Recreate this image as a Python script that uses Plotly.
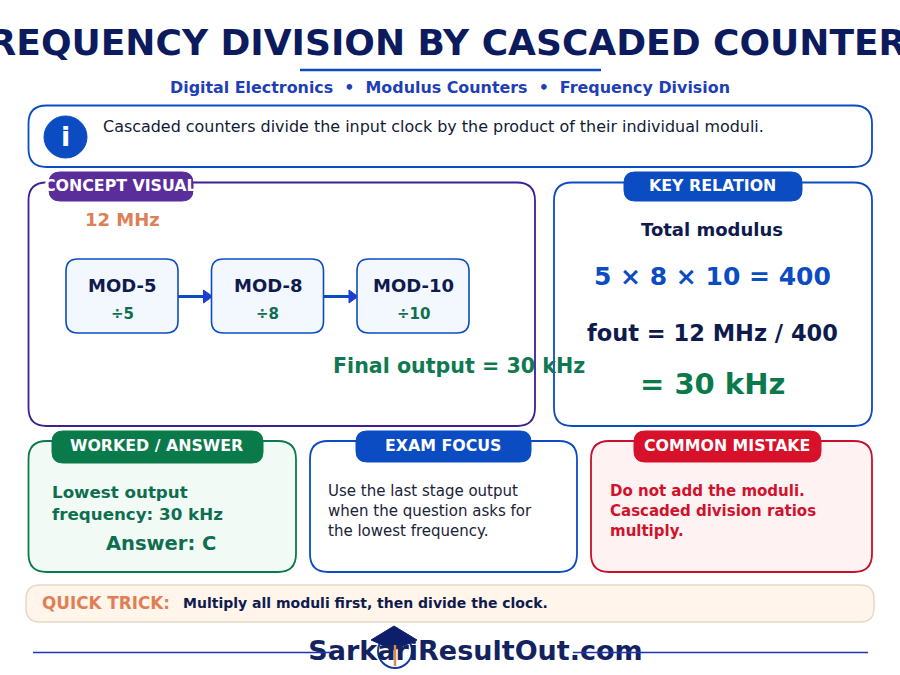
"""
Frequency division by cascaded counters - infographic card
"""
import plotly.graph_objects as go

FONT = 'DejaVu Sans'
NAVY = '#0b1b5e'
INK = '#0f1a4d'
BLUE = '#0b4cc2'
PURPLE = '#5b2d9b'
GREEN = '#0b7a4b'
RED = '#d8112a'
ORANGE = '#df7f55'

# Text content
title = 'FREQUENCY DIVISION BY CASCADED COUNTERS'
subtitle = 'Digital Electronics  •  Modulus Counters  •  Frequency Division'
info_text = 'Cascaded counters divide the input clock by the product of their individual moduli.'
input_clock = '12 MHz'
moduli = [5, 8, 10]
final_output = 'Final output = 30 kHz'
relation_lines = ['Total modulus', '5 × 8 × 10 = 400', 'fout = 12 MHz / 400', '= 30 kHz']
worked_lines = ['Lowest output', 'frequency: 30 kHz']
answer = 'Answer: C'
exam_lines = ['Use the last stage output', 'when the question asks for', 'the lowest frequency.']
mistake_lines = ['Do not add the moduli.', 'Cascaded division ratios', 'multiply.']
trick_label = 'QUICK TRICK:'
trick_text = 'Multiply all moduli first, then divide the clock.'
site_name = 'SarkariResultOut.com'

shapes = []
annotations = []


def round_rect(x0, y0, x1, y1, r, fill, line, width=1.8, layer='below'):
    path = (f'M{x0 + r},{y0} L{x1 - r},{y0} Q{x1},{y0} {x1},{y0 + r} '
            f'L{x1},{y1 - r} Q{x1},{y1} {x1 - r},{y1} '
            f'L{x0 + r},{y1} Q{x0},{y1} {x0},{y1 - r} '
            f'L{x0},{y0 + r} Q{x0},{y0} {x0 + r},{y0} Z')
    shapes.append(dict(type='path', path=path, fillcolor=fill, layer=layer,
                       line=dict(color=line, width=width)))


def label(x, y, text, size, color, bold=True, anchor='center'):
    shown = f'<b>{text}</b>' if bold else text
    # annotations carry a small pad on their left edge
    x = x - 2 if anchor == 'left' else x
    annotations.append(dict(x=x, y=y - 0.5, text=shown, showarrow=False, xanchor=anchor, yanchor='middle',
                            font=dict(family=FONT, size=size, color=color)))


def badge(x0, y0, x1, y1, text, fill):
    round_rect(x0, y0, x1, y1, 11, fill, fill, 1)
    label((x0 + x1) / 2 - 1, (y0 + y1) / 2 - 1, text, 15.8, 'white')


# Header
label(448, 43, title, 36, NAVY)
shapes.append(dict(type='line', x0=300, x1=601, y0=70, y1=70, layer='below', line=dict(color=BLUE, width=2.5)))
label(449.5, 88, subtitle, 15.9, '#1f3fb5')

# Info strip
round_rect(28.5, 105.5, 872, 167, 18, 'white', BLUE)
shapes.append(dict(type='circle', x0=44, x1=87, y0=116, y1=158, fillcolor=BLUE, line=dict(color=BLUE, width=1), layer='below'))
label(65.5, 137, 'i', 27, 'white')
label(103, 127, info_text, 15.95, '#111a33', bold=False, anchor='left')

# Concept panel
round_rect(28.5, 182.5, 535, 426, 18, 'white', '#3d1f96')
badge(49, 172, 193, 201, 'CONCEPT VISUAL', PURPLE)
label(122, 220, input_clock, 18, ORANGE)

box_left = [66, 211.5, 357]
for i, m in enumerate(moduli):
    x0 = box_left[i]
    round_rect(x0, 259, x0 + 112, 333, 12, '#f2f8fe', BLUE, 1.6)
    label(x0 + 56, 286, f'MOD-{m}', 18, INK)
    label(x0 + 56, 314, f'÷{m}', 15, '#0f6e50')
    if i < len(moduli) - 1:
        end = box_left[i + 1]
        shapes.append(dict(type='line', x0=x0 + 112, x1=end - 6, y0=296.5, y1=296.5, layer='below',
                           line=dict(color=BLUE, width=3)))
        shapes.append(dict(type='path', path=f'M{end - 8},290 L{end + 1},296.5 L{end - 8},303 Z',
                           fillcolor='#1c3fd0', line=dict(color='#1c3fd0', width=1), layer='below'))
label(459, 366, final_output, 20.6, '#0f7a52')

# Key relation panel
round_rect(554, 182.5, 872, 426, 18, 'white', BLUE)
badge(624, 172, 802, 201, 'KEY RELATION', BLUE)
label(712, 230, relation_lines[0], 18, INK)
label(712, 277, relation_lines[1], 25, BLUE)
label(712, 333, relation_lines[2], 22.5, INK)
label(712, 384, relation_lines[3], 29, GREEN)

# Bottom cards
round_rect(28.5, 441, 296, 572, 18, '#f2faf6', GREEN)
badge(52, 431, 263, 463, 'WORKED / ANSWER', GREEN)
for i, line in enumerate(worked_lines):
    label(52, 492.5 + i * 21.5, line, 16.7, '#0f6e50', anchor='left')
label(161, 544, answer, 19.5, '#0f6e50')

round_rect(310, 441, 577, 572, 18, 'white', BLUE)
badge(356, 431, 531, 462, 'EXAM FOCUS', BLUE)
for i, line in enumerate(exam_lines):
    label(328, 491.5 + i * 20, line, 15, '#1a2238', bold=False, anchor='left')

round_rect(591, 441, 872, 572, 18, '#fff2f3', '#c8102e')
badge(634, 431, 821, 462, 'COMMON MISTAKE', RED)
for i, line in enumerate(mistake_lines):
    label(610, 491.5 + i * 20, line, 15, '#d0122c', anchor='left')

# Quick trick strip
round_rect(26, 585, 874, 622, 14, '#fff5ea', '#e8d8c6', 1.5)
label(42, 603, trick_label, 16.8, ORANGE, anchor='left')
label(183, 603, trick_text, 14, INK, anchor='left')

# Footer: cap emblem, wordmark and rule
shapes.append(dict(type='circle', x0=378, x1=412, y0=634, y1=668, fillcolor='rgba(0,0,0,0)',
                   line=dict(color='#1a3a9e', width=2), layer='below'))
shapes.append(dict(type='path', path='M371,640 L394,626 L417,640 L394,650 Z', fillcolor='#0d1f6b',
                   line=dict(color='#0d1f6b', width=1), layer='below'))
shapes.append(dict(type='line', x0=395, x1=395, y0=645, y1=666, layer='below', line=dict(color='#d98a4e', width=2.5)))
for x0, x1 in [(33, 330), (573, 868)]:
    shapes.append(dict(type='line', x0=x0, x1=x1, y0=652.5, y1=652.5, layer='above', line=dict(color='#1f35b5', width=1.5)))

# Wordmark is a trace so that the rule can pass over it
fig = go.Figure(go.Scatter(x=[475.5], y=[653], text=[f'<b>{site_name}</b>'], mode='text', textposition='middle center',
                           textfont=dict(family=FONT, size=27, color='#14235f'), hoverinfo='skip', showlegend=False))

fig.update_layout(
    width=900, height=675, autosize=False,
    margin=dict(l=0, r=0, t=0, b=0),
    paper_bgcolor='white', plot_bgcolor='white',
    xaxis=dict(range=[0, 900], visible=False, fixedrange=True),
    yaxis=dict(range=[675, 0], visible=False, fixedrange=True),
    shapes=shapes, annotations=annotations,
)

# Default page margin would push the figure off by 8px
fig.write_html('out.html', config={'displayModeBar': False},
               post_script="document.body.style.margin='0';document.documentElement.style.overflow='hidden';")
